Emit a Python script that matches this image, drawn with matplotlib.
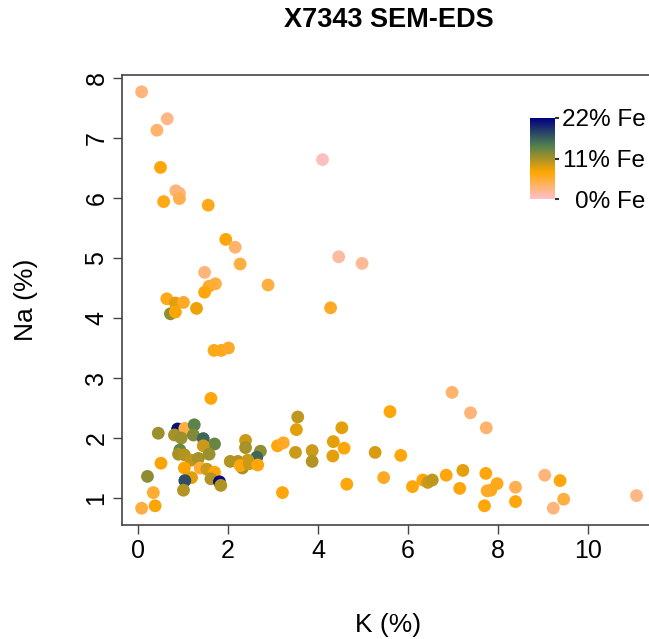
import numpy as np
import matplotlib
matplotlib.use("Agg")
import matplotlib.pyplot as plt
from matplotlib.colors import LinearSegmentedColormap, Normalize

plt.rcParams['font.family'] = ['Liberation Sans', 'DejaVu Sans']

# K (%), Na (%), Fe (%) per analysed spot
k_pct = [0.08, 0.65, 0.42, 0.50, 0.84, 0.92, 0.92, 0.57, 1.56, 1.95,
         2.16, 2.27, 1.48, 1.72, 1.58, 1.48, 2.89, 0.64, 0.83, 1.01,
         1.30, 0.72, 0.83, 1.69, 1.85, 2.01, 4.10, 4.46, 4.98, 4.28,
         1.62, 0.45, 0.88, 1.04, 1.08, 1.25, 0.81, 0.96, 1.23, 1.45,
         1.70, 1.45, 0.93, 0.90, 1.03, 1.18, 1.34, 1.58, 2.05, 0.51,
         1.03, 1.38, 1.53, 1.70, 1.19, 1.62, 1.04, 1.81, 1.84, 1.01,
         0.21, 0.34, 0.38, 0.08, 2.22, 2.39, 2.39, 2.72, 2.64, 2.44,
         2.32, 2.27, 2.47, 2.66, 3.10, 3.23, 3.55, 3.52, 3.50, 3.87,
         3.87, 3.21, 6.98, 7.39, 7.74, 5.60, 4.53, 4.34, 4.58, 4.33,
         5.27, 5.84, 4.64, 5.46, 6.10, 6.33, 6.44, 6.54, 6.85, 7.22,
         7.15, 7.73, 7.70, 7.98, 7.84, 7.76, 8.39, 8.39, 9.04, 9.38,
         9.46, 9.23, 11.08]
na_pct = [7.77, 7.32, 7.13, 6.51, 6.12, 6.08, 5.99, 5.94, 5.88, 5.31,
          5.18, 4.90, 4.76, 4.57, 4.53, 4.43, 4.55, 4.32, 4.25, 4.26,
          4.16, 4.07, 4.10, 3.46, 3.46, 3.50, 6.64, 5.02, 4.91, 4.17,
          2.66, 2.08, 2.15, 2.16, 2.13, 2.22, 2.05, 2.00, 2.05, 1.99,
          1.90, 1.87, 1.80, 1.73, 1.72, 1.63, 1.66, 1.73, 1.61, 1.58,
          1.50, 1.50, 1.48, 1.43, 1.34, 1.32, 1.29, 1.27, 1.21, 1.13,
          1.36, 1.09, 0.87, 0.83, 1.61, 1.96, 1.84, 1.78, 1.68, 1.63,
          1.50, 1.54, 1.57, 1.55, 1.87, 1.92, 2.35, 2.14, 1.76, 1.79,
          1.61, 1.09, 2.76, 2.42, 2.17, 2.44, 2.17, 1.94, 1.83, 1.70,
          1.76, 1.71, 1.23, 1.34, 1.19, 1.30, 1.26, 1.30, 1.38, 1.46,
          1.16, 1.41, 0.87, 1.24, 1.13, 1.12, 1.18, 0.94, 1.38, 1.29,
          0.98, 0.83, 1.04]
fe_pct = [3.0, 2.5, 3.5, 7.0, 3.0, 3.0, 4.5, 6.5, 6.5, 7.0,
          3.5, 5.0, 3.0, 5.0, 5.5, 7.0, 5.0, 6.5, 8.5, 6.0,
          8.0, 12.0, 7.5, 6.5, 6.5, 6.0, 0.5, 1.5, 2.0, 6.0,
          7.0, 11.5, 21.0, 5.0, 5.0, 14.0, 11.0, 11.5, 12.5, 16.0,
          13.5, 9.5, 13.5, 11.0, 10.5, 10.0, 11.0, 11.5, 10.5, 7.5,
          7.5, 5.5, 9.5, 7.0, 8.5, 10.5, 17.5, 21.5, 10.5, 10.5,
          12.0, 5.5, 7.5, 5.0, 10.5, 9.5, 11.0, 12.0, 16.0, 9.5,
          11.0, 7.0, 9.5, 7.0, 7.0, 6.0, 10.0, 8.5, 9.5, 9.5,
          10.5, 7.0, 3.5, 3.0, 3.5, 7.0, 8.5, 8.5, 7.0, 8.5,
          9.0, 7.0, 7.0, 6.0, 7.0, 7.0, 9.5, 10.0, 7.0, 8.5,
          7.0, 7.0, 7.0, 6.5, 6.5, 6.0, 4.5, 7.0, 3.0, 7.0,
          5.0, 3.0, 2.5]

fe_ticks = [0, 11, 22]
fe_labels = ['0% Fe', '11% Fe', '22% Fe']
x_ticks = [0, 2, 4, 6, 8, 10]
y_ticks = [1, 2, 3, 4, 5, 6, 7, 8]

W, H = 649, 639
fig = plt.figure(figsize=(W / 100, H / 100), dpi=100)
ax = fig.add_axes([122 / W, 1 - 525 / H, 533 / W, 450 / H])

cmap = LinearSegmentedColormap.from_list('fe', ['pink', 'orange', '#4d7f50', 'navy'])
norm = Normalize(0, 22)
sc = ax.scatter(k_pct, na_pct, c=fe_pct, cmap=cmap, norm=norm, s=85,
                edgecolors='none', clip_on=False)

ax.set_xlim(-0.356, 11.49)
ax.set_ylim(0.55, 8.05)
ax.set_xticks(x_ticks)
ax.set_yticks(y_ticks)
for sp in ax.spines.values():
    sp.set_color('#444444')
    sp.set_linewidth(1.2)
ax.tick_params(length=6.8, width=1.0, color='#444444', labelsize=18, pad=3)
ax.tick_params(axis='y', labelrotation=90)
for lab in ax.get_yticklabels():
    lab.set_va('center')

fig.text(388.5 / W, 1 - 20 / H, 'X7343 SEM-EDS', ha='center', va='center',
         fontsize=19.5, fontweight='bold')
fig.text(388.5 / W, 1 - 625 / H, 'K (%)', ha='center', va='center', fontsize=19)
fig.text(26 / W, 1 - 300 / H, 'Na (%)', ha='center', va='center', fontsize=19,
         rotation=90)

# colour legend
cax = fig.add_axes([530 / W, 1 - 199 / H, 25 / W, 81 / H])
cb = fig.colorbar(sc, cax=cax, ticks=fe_ticks)
cb.outline.set_visible(False)
cb.ax.set_yticklabels(fe_labels)
cb.ax.tick_params(length=3, width=1.5, color='#333333', labelsize=17.5, pad=62)
for lab in cb.ax.get_yticklabels():
    lab.set_ha('right')

fig.savefig('out.png', dpi=100)
